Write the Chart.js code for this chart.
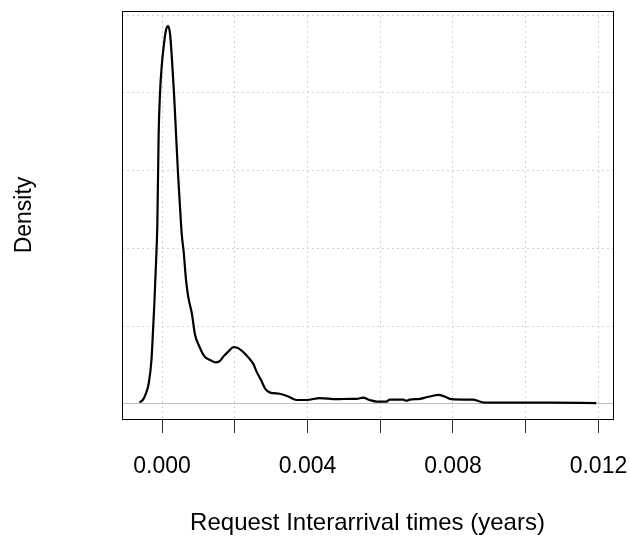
<!DOCTYPE html>
<html>
<head>
<meta charset="utf-8">
<script src="https://cdn.jsdelivr.net/npm/chart.js@4/dist/chart.umd.min.js"></script>
<style>
  html, body { margin: 0; padding: 0; background: #ffffff; }
  canvas { display: block; }
</style>
</head>
<body>
<canvas id="chart" width="630" height="538"></canvas>
<script>
// kernel density estimate
var xs = [
    -0.00062, -0.00053, -0.00044, -0.000365, -0.00029, -0.000255, -0.00021, -0.000165, -0.000128, -0.000092,
    -0.000055, -0.00001, 0.000055, 0.00011, 0.000165, 0.00022, 0.000275, 0.00033, 0.000385, 0.00044,
    0.000495, 0.00054, 0.0006, 0.00066, 0.00072, 0.00082, 0.00091, 0.00103, 0.00116, 0.00132,
    0.00146, 0.00157, 0.0017, 0.00185, 0.00196, 0.00205, 0.00219, 0.00237, 0.00251, 0.0026,
    0.00272, 0.00283, 0.00297, 0.00324, 0.00347, 0.0037, 0.00398, 0.00434, 0.0048, 0.00516,
    0.00535, 0.00553, 0.00571, 0.0059, 0.00617, 0.00626, 0.00663, 0.00672, 0.00681, 0.00709,
    0.00727, 0.00745, 0.00759, 0.00777, 0.00796, 0.00828, 0.00855, 0.00874, 0.00887, 0.00974,
    0.01066, 0.01194
];
var ys = [
    4, 10, 27, 53, 113, 173, 259, 362, 465, 696,
    799, 867, 927, 962, 972, 953, 884, 799, 696, 593,
    507, 439, 387, 319, 276, 233, 177, 147, 123, 113,
    107, 109, 123, 137, 146, 145, 137, 120, 103, 83,
    62, 40, 29, 26, 19, 10, 10, 15, 12, 13,
    13, 16, 10, 6, 6, 11, 11, 8, 11, 13,
    17, 21, 23, 19, 12, 11, 11, 6, 3, 3,
    3, 2
];
var labeledTicks = [0, 0.004, 0.008, 0.012];

var font = "'Liberation Sans', Arial, sans-serif";

// R style box round the plot region
var boxPlugin = {
    id: "box",
    afterDraw: function(chart) {
        var a = chart.chartArea;
        var ctx = chart.ctx;
        ctx.save();
        ctx.strokeStyle = "#000000";
        ctx.lineWidth = 1;
        ctx.strokeRect(Math.round(a.left) + 0.5, Math.round(a.top) + 0.5,
            Math.round(a.right - a.left), Math.round(a.bottom - a.top));
        ctx.restore();
    }
};

var chart = new Chart(document.getElementById("chart"), {
    type: "line",
    data: {
        datasets: [{
            data: xs.map((x, i) => ({x: x, y: ys[i]})),
            borderColor: "#000000",
            borderWidth: 2.2,
            pointRadius: 0,
            fill: false,
            cubicInterpolationMode: "monotone",
        }]
    },
    options: {
        responsive: false,
        animation: false,
        layout: {
            padding: {top: 11, right: 17, left: 0, bottom: 0}
        },
        plugins: {
            legend: {display: false},
            tooltip: {enabled: false},
        },
        scales: {
            x: {
                type: "linear",
                min: -0.0011,
                max: 0.0124,
                afterFit: function(scale) {
                    scale.height = 119;
                    scale.paddingLeft = 0;   // labels may run past the plot box
                    scale.paddingRight = 0;
                },
                border: {display: false, dash: [2, 3]},
                grid: {
                    color: "#d3d3d3",
                    lineWidth: 1,
                    drawTicks: true,
                    tickLength: 14,
                    tickColor: "#333333",
                    tickBorderDash: [],
                },
                ticks: {
                    stepSize: 0.002,
                    includeBounds: false,
                    autoSkip: false,
                    maxRotation: 0,
                    padding: 20,
                    color: "#000000",
                    font: {family: font, size: 23},
                    callback: function(v) {
                        var hit = labeledTicks.some(t => Math.abs(t - v) < 1e-9);
                        return hit ? v.toFixed(3) : "";
                    }
                },
                title: {
                    display: true,
                    text: "Request Interarrival times (years)",
                    color: "#000000",
                    font: {family: font, size: 24},
                    padding: {top: 0, bottom: 0}
                }
            },
            y: {
                min: -38.9,
                max: 1010.9,
                afterFit: function(scale) { scale.width = 122; },
                border: {
                    display: false,
                    dash: (ctx) => (ctx.tick && ctx.tick.value === 0 ? [] : [2, 3]),
                },
                grid: {
                    color: (ctx) => (ctx.tick && ctx.tick.value === 0 ? "#bebebe" : "#d3d3d3"),
                    lineWidth: 1,
                    drawTicks: false,
                },
                ticks: {
                    display: false,
                    stepSize: 200,
                    includeBounds: false,
                },
                title: {
                    display: true,
                    text: "Density",
                    color: "#000000",
                    font: {family: font, size: 23},
                    padding: {top: 11, bottom: 0}
                }
            }
        }
    },
    plugins: [boxPlugin]
});
</script>
</body>
</html>
